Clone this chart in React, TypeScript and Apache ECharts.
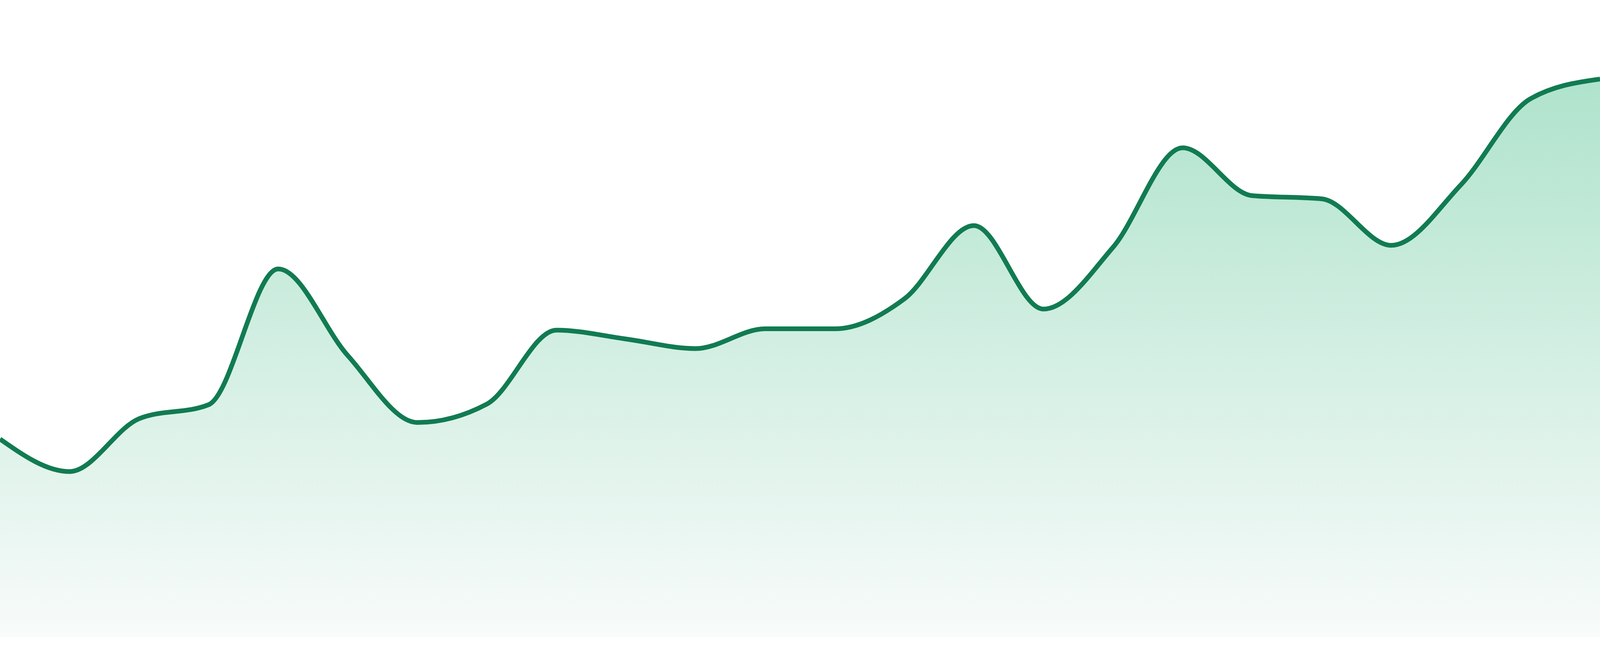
import React, { useEffect, useRef } from 'react';
import * as echarts from 'echarts';

// 24 evenly spaced samples (axis 0..100)
const categories: string[] = [
  'P1', 'P2', 'P3', 'P4', 'P5', 'P6', 'P7', 'P8', 'P9', 'P10', 'P11', 'P12',
  'P13', 'P14', 'P15', 'P16', 'P17', 'P18', 'P19', 'P20', 'P21', 'P22', 'P23', 'P24',
];

const values: number[] = [
  31.1, 26.0, 34.3, 36.5, 57.8, 44.2, 33.7, 36.6, 48.2, 46.8, 45.3, 48.4,
  48.4, 53.1, 64.6, 51.5, 61.2, 76.8, 69.3, 68.8, 61.5, 71.0, 84.5, 87.6,
];

const yMin = 0;
const yMax = 100;

const lineColor = '#117b52';
const fillTop = '#afe3cc';
const fillBottom = '#f8fbfa';

// monotone-x cubic (same rule as d3 curveMonotoneX), built from pixel points
const sign = (v: number) => (v < 0 ? -1 : 1);

const monotonePath = (pts: number[][]): string => {
  const n = pts.length;
  if (n < 2) return '';
  const t: number[] = new Array(n).fill(0);
  for (let i = 1; i < n - 1; i++) {
    const h0 = pts[i][0] - pts[i - 1][0];
    const h1 = pts[i + 1][0] - pts[i][0];
    const s0 = (pts[i][1] - pts[i - 1][1]) / h0;
    const s1 = (pts[i + 1][1] - pts[i][1]) / h1;
    const p = (s0 * h1 + s1 * h0) / (h0 + h1);
    t[i] = (sign(s0) + sign(s1)) * Math.min(Math.abs(s0), Math.abs(s1), 0.5 * Math.abs(p)) || 0;
  }
  const sFirst = (pts[1][1] - pts[0][1]) / (pts[1][0] - pts[0][0]);
  const sLast = (pts[n - 1][1] - pts[n - 2][1]) / (pts[n - 1][0] - pts[n - 2][0]);
  t[0] = n > 2 ? (3 * sFirst - t[1]) / 2 : sFirst;
  t[n - 1] = n > 2 ? (3 * sLast - t[n - 2]) / 2 : sLast;

  let d = `M${pts[0][0]},${pts[0][1]}`;
  for (let i = 0; i < n - 1; i++) {
    const [x0, y0] = pts[i];
    const [x1, y1] = pts[i + 1];
    const dx = (x1 - x0) / 3;
    d += `C${x0 + dx},${y0 + dx * t[i]},${x1 - dx},${y1 - dx * t[i + 1]},${x1},${y1}`;
  }
  return d;
};

const App: React.FC = () => {
  const chartRef = useRef<HTMLDivElement>(null);

  useEffect(() => {
    if (!chartRef.current) return;
    const chart = echarts.init(chartRef.current, undefined, { renderer: 'svg' });

    const renderItem = (params: any, api: any) => {
      if (params.dataIndex !== 0) return null;
      const pts = values.map((v, i) => api.coord([i, v]));
      const base = api.coord([0, yMin])[1];
      const line = monotonePath(pts);
      const last = pts[pts.length - 1];
      const area = `${line}L${last[0]},${base}L${pts[0][0]},${base}Z`;
      return {
        type: 'group',
        children: [
          {
            type: 'path',
            shape: { pathData: area },
            style: {
              fill: new echarts.graphic.LinearGradient(0, 0, 0, 1, [
                { offset: 0, color: fillTop },
                { offset: 1, color: fillBottom },
              ]),
              stroke: 'none',
            },
          },
          {
            type: 'path',
            shape: { pathData: line },
            style: {
              fill: 'none',
              stroke: lineColor,
              lineWidth: 12,
              lineJoin: 'round',
            },
          },
        ],
      };
    };

    chart.setOption({
      animation: false,
      grid: { left: 0, right: 0, top: 0, bottom: 48 },
      xAxis: {
        type: 'category',
        show: false,
        boundaryGap: false,
        data: categories,
      },
      yAxis: {
        type: 'value',
        show: false,
        min: yMin,
        max: yMax,
      },
      series: [
        {
          type: 'custom',
          renderItem,
          clip: false,
          data: values.map((v, i) => [i, v]),
          encode: { x: 0, y: 1 },
        },
      ],
    });

    const handleResize = () => chart.resize();
    window.addEventListener('resize', handleResize);
    return () => {
      window.removeEventListener('resize', handleResize);
      chart.dispose();
    };
  }, []);

  return (
    <div
      ref={chartRef}
      style={{ position: 'absolute', left: 0, top: 0, width: '100vw', height: '100vh', background: '#ffffff' }}
    />
  );
};

export default App;
